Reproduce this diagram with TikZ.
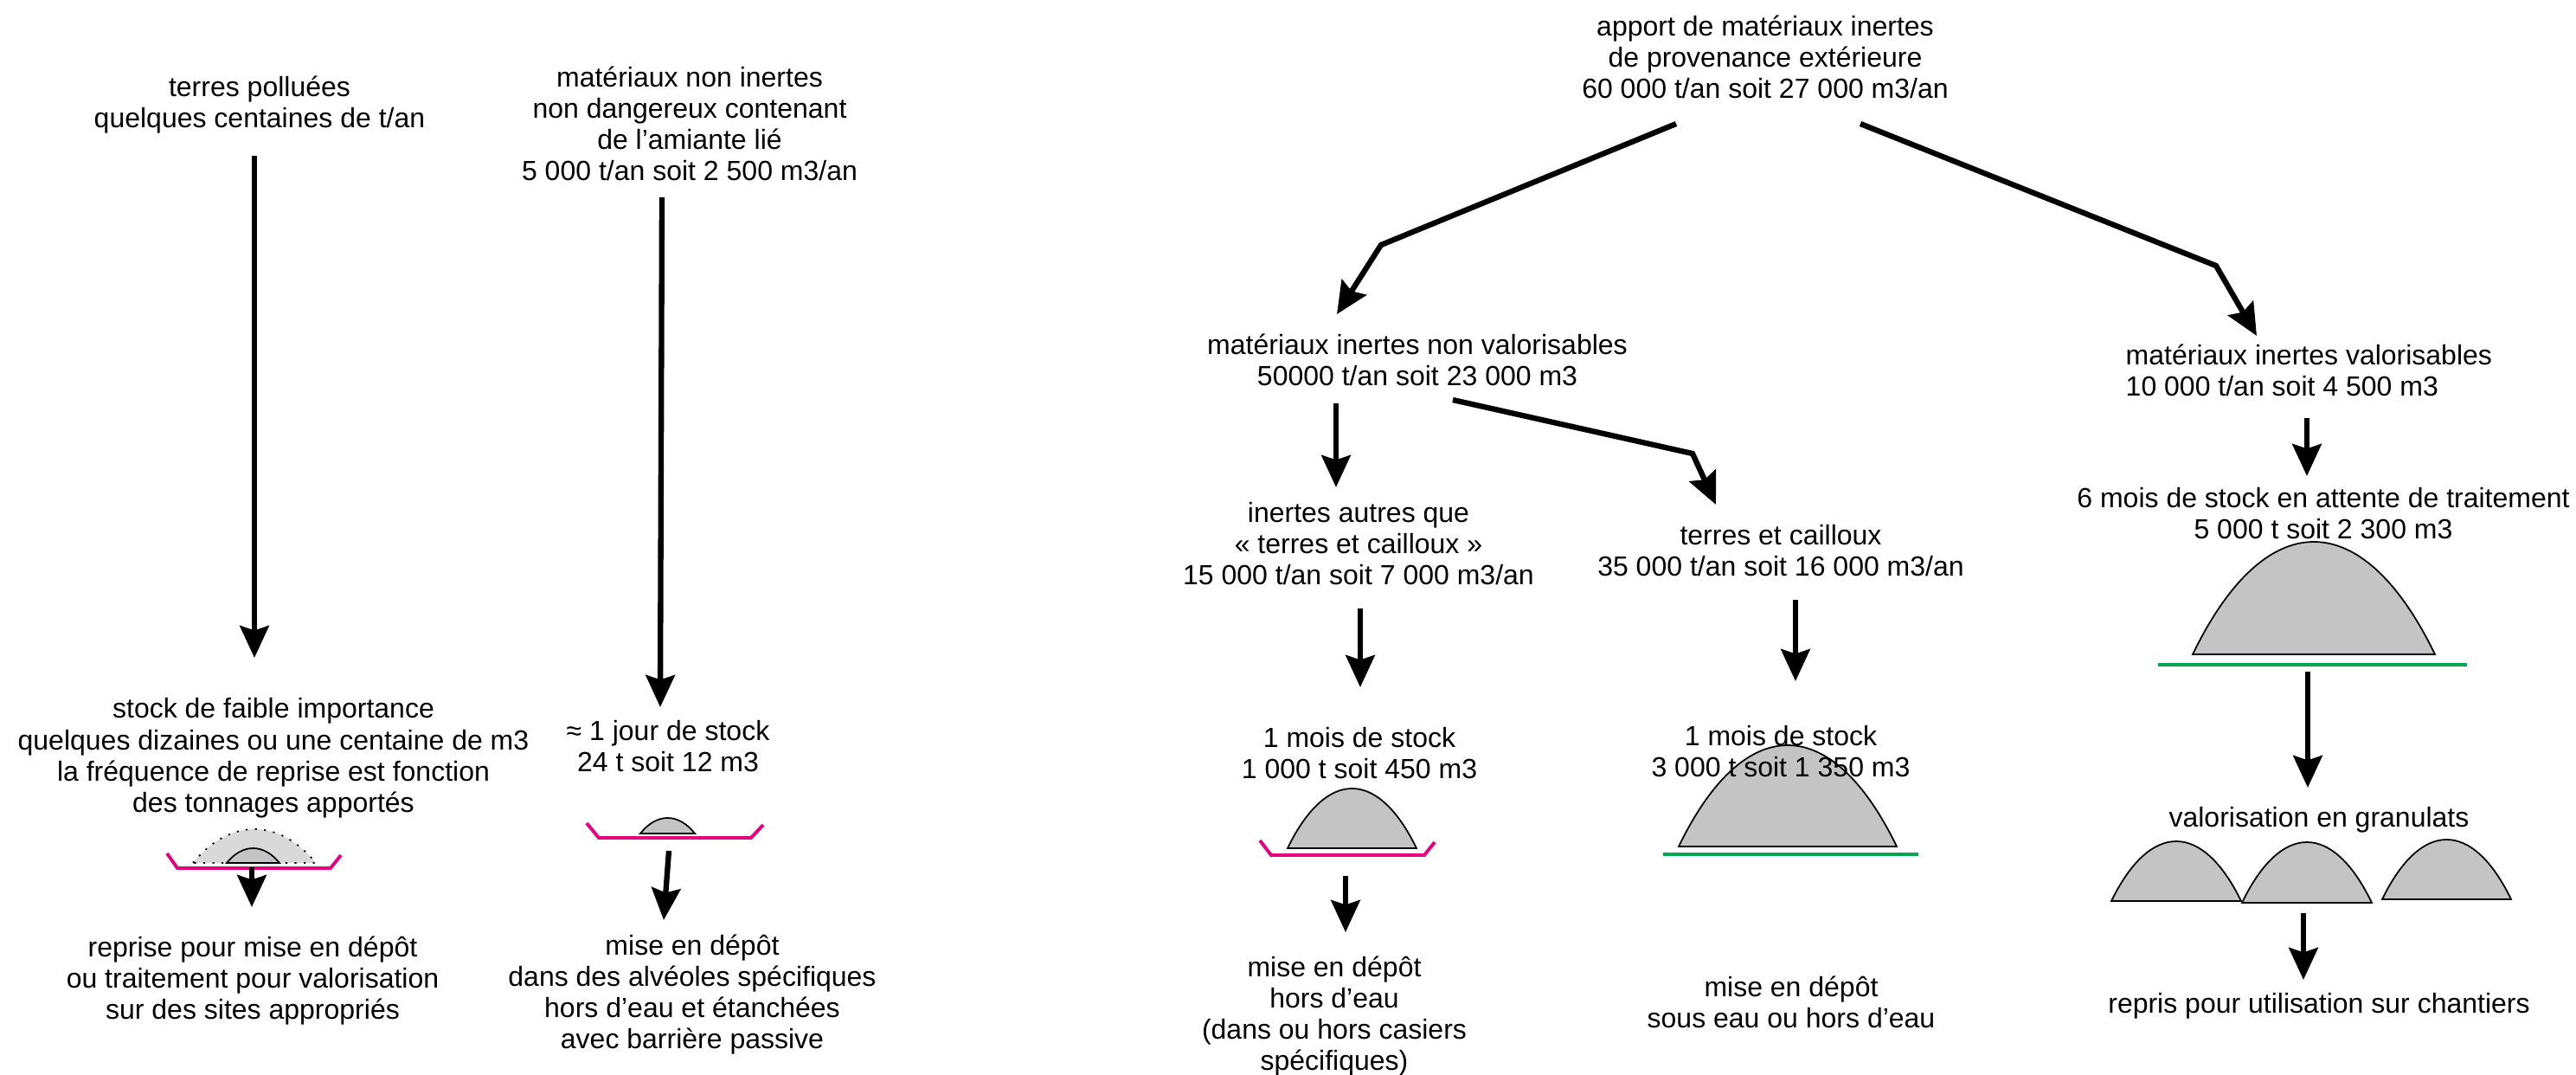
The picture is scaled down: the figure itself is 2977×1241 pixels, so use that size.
\documentclass[tikz,border=0pt]{standalone}
\usepackage{fontspec}
\setmainfont{Liberation Sans}
\usetikzlibrary{arrows.meta}

\definecolor{bassin}{HTML}{E6007E}
\definecolor{sol}{HTML}{00A651}
\definecolor{tasgris}{HTML}{C4C4C4}

\tikzset{
  lbl/.style={align=center, font=\fontsize{9.1}{10.3}\selectfont, inner sep=0pt},
  flow/.style={-{Stealth[length=10.5pt,width=9.5pt,inset=1.5pt]}, line width=1.8pt, line join=miter},
  alveole/.style={draw=bassin, line width=1.1pt},
  plateforme/.style={draw=sol, line width=1.1pt},
  tas/.style={fill=tasgris, draw=black, line width=0.5pt},
}
% heap of material: [options] left x, right x, base y, height
\newcommand\heap[5][]{\draw[tas,#1] (#2,#4) .. controls ({#2+0.3*(#3-#2)},{#4-4/3*#5}) and ({#3-0.3*(#3-#2)},{#4-4/3*#5}) .. (#3,#4) -- cycle;}

\begin{document}
\begin{tikzpicture}[x=0.01cm,y=-0.01cm]
\useasboundingbox (0,0) rectangle (2977,1241);

% heaps (drawn first, text goes over them)
\heap[fill=gray!30,dash pattern=on 0.6pt off 2.4pt]{223}{365}{997}{39}
\heap{262}{323}{997}{17}
\heap{740}{803}{963}{18}
\heap{1488}{1637}{980}{69}
\heap{1940}{2192}{978}{117}
\heap{2534}{2814}{756}{130}
\heap{2440}{2590}{1041}{69}
\heap{2591}{2741}{1043}{70}
\heap{2753}{2902}{1039}{69}

% cells and platforms
\draw[alveole] (193,986) -- (205,1003) -- (382,1003) -- (394,988);
\draw[alveole] (678,951) -- (692,968) -- (868,968) -- (882,953);
\draw[alveole] (1456,971) -- (1469,988) -- (1646,988) -- (1658,973);
\draw[plateforme] (1922,987) -- (2217,987);
\draw[plateforme] (2494,768) -- (2851,768);

% left part
\node[lbl] (polluees) at (300,121) {terres polluées\\quelques centaines de t/an};
\node[lbl] (amiante) at (797,143) {matériaux non inertes\\non dangereux contenant\\de l’amiante lié\\5 000 t/an soit 2 500 m3/an};
\node[lbl] (stockA) at (316,876) {stock de faible importance\\quelques dizaines ou une centaine de m3\\la fréquence de reprise est fonction\\des tonnages apportés};
\node[lbl] (stockB) at (772,862) {≈ 1 jour de stock\\24 t soit 12 m3};
\node[lbl] (repriseA) at (292,1133) {reprise pour mise en dépôt\\ou traitement pour valorisation\\sur des sites appropriés};
\node[lbl] (depotB) at (800,1149) {mise en dépôt\\dans des alvéoles spécifiques\\hors d’eau et étanchées\\avec barrière passive};

% right part
\node[lbl] (apport) at (2040,66) {apport de matériaux inertes\\de provenance extérieure\\60 000 t/an soit 27 000 m3/an};
\node[lbl] (nonvalo) at (1638,416) {matériaux inertes non valorisables\\50000 t/an soit 23 000 m3};
\node[lbl,align=left,anchor=west] (valo) at (2456,428) {matériaux inertes valorisables\\10 000 t/an soit 4 500 m3};
\node[lbl] (autres) at (1570,628) {inertes autres que\\« terres et cailloux »\\15 000 t/an soit 7 000 m3/an};
\node[lbl] (cailloux) at (2058,636) {terres et cailloux\\35 000 t/an soit 16 000 m3/an};
\node[lbl] (moisA) at (1571,870) {1 mois de stock\\1 000 t soit 450 m3};
\node[lbl] (moisB) at (2058,868) {1 mois de stock\\3 000 t soit 1 350 m3};
\node[lbl] (sixmois) at (2685,593) {6 mois de stock en attente de traitement\\5 000 t soit 2 300 m3};
\node[lbl] (granulats) at (2680,947) {valorisation en granulats};
\node[lbl] (chantiers) at (2680,1162) {repris pour utilisation sur chantiers};
\node[lbl] (horseau) at (1542,1174) {mise en dépôt\\hors d’eau\\(dans ou hors casiers\\spécifiques)};
\node[lbl] (souseau) at (2070,1158) {mise en dépôt\\sous eau ou hors d’eau};

% arrow ends
\coordinate (polluees-out) at (294,180);
\coordinate (stockA-in) at (294,760);
\coordinate (stockA-out) at (291,1002);
\coordinate (repriseA-in) at (291,1048);
\coordinate (amiante-out) at (765,228);
\coordinate (stockB-in) at (763,817);
\coordinate (stockB-out) at (773,983);
\coordinate (depotB-in) at (767,1063);
\coordinate (apport-l) at (1937,143);
\coordinate (coude-l) at (1596,283);
\coordinate (nonvalo-in) at (1545,363);
\coordinate (apport-r) at (2150,143);
\coordinate (coude-r) at (2561,307);
\coordinate (valo-in) at (2608,388);
\coordinate (nonvalo-out) at (1544,466);
\coordinate (autres-in) at (1544,563);
\coordinate (nonvalo-r) at (1679,462);
\coordinate (coude-m) at (1956,524);
\coordinate (cailloux-in) at (1983,583);
\coordinate (valo-out) at (2666,483);
\coordinate (sixmois-in) at (2666,550);
\coordinate (autres-out) at (1572,703);
\coordinate (moisA-in) at (1572,794);
\coordinate (cailloux-out) at (2075,693);
\coordinate (moisB-in) at (2075,787);
\coordinate (moisA-out) at (1555,1012);
\coordinate (horseau-in) at (1555,1077);
\coordinate (sixmois-out) at (2667,776);
\coordinate (granulats-in) at (2667,910);
\coordinate (granulats-out) at (2662,1055);
\coordinate (chantiers-in) at (2662,1132);

% flows
\draw[flow] (polluees-out) -- (stockA-in);
\draw[flow] (stockA-out) -- (repriseA-in);
\draw[flow] (amiante-out) -- (stockB-in);
\draw[flow] (stockB-out) -- (depotB-in);
\draw[flow] (apport-l) -- (coude-l) -- (nonvalo-in);
\draw[flow] (apport-r) -- (coude-r) -- (valo-in);
\draw[flow] (nonvalo-out) -- (autres-in);
\draw[flow] (nonvalo-r) -- (coude-m) -- (cailloux-in);
\draw[flow] (valo-out) -- (sixmois-in);
\draw[flow] (autres-out) -- (moisA-in);
\draw[flow] (cailloux-out) -- (moisB-in);
\draw[flow] (moisA-out) -- (horseau-in);
\draw[flow] (sixmois-out) -- (granulats-in);
\draw[flow] (granulats-out) -- (chantiers-in);
\end{tikzpicture}
\end{document}
